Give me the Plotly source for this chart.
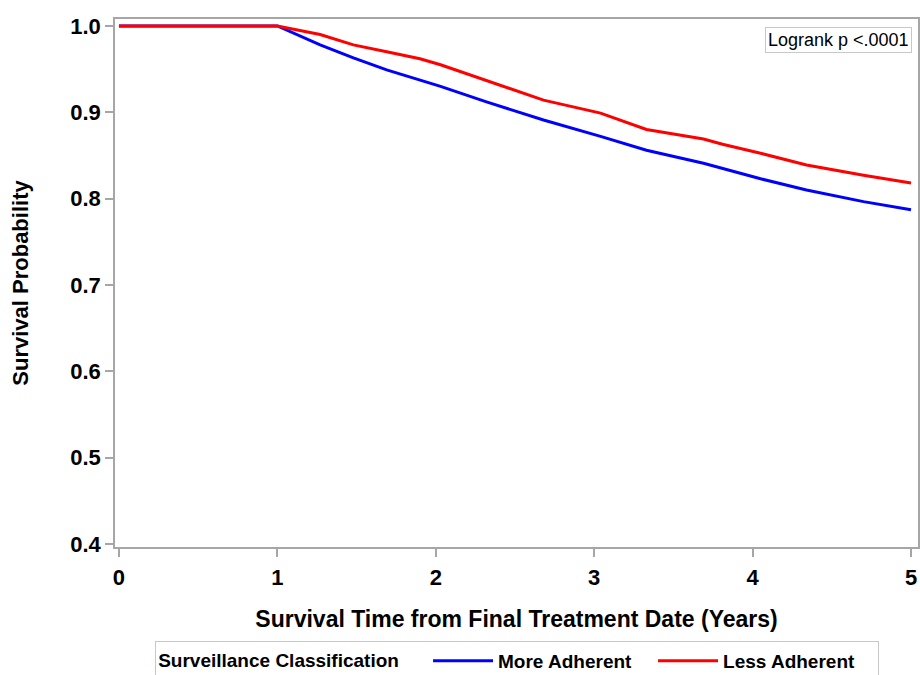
import plotly.graph_objects as go

# Survival time (years) and survival probabilities
more_adherent_t = [0.0, 1.0, 1.27, 1.48, 1.69, 2.03, 2.32, 2.68, 3.04, 3.33, 3.69, 4.05, 4.34, 4.70, 5.0]
more_adherent = [1.0, 1.0, 0.978, 0.963, 0.949, 0.930, 0.912, 0.891, 0.872, 0.856, 0.841, 0.823, 0.810, 0.7965, 0.787]
less_adherent_t = [0.0, 1.0, 1.27, 1.48, 1.69, 1.90, 2.03, 2.17, 2.39, 2.68, 3.04, 3.33, 3.69, 3.81, 4.05, 4.34, 4.70, 5.0]
less_adherent = [1.0, 1.0, 0.990, 0.978, 0.970, 0.962, 0.955, 0.946, 0.932, 0.914, 0.899, 0.880, 0.869, 0.863, 0.8525, 0.839, 0.827, 0.818]

x_ticks = [0, 1, 2, 3, 4, 5]
y_ticks = [0.4, 0.5, 0.6, 0.7, 0.8, 0.9, 1.0]
y_tick_text = ["0.4", "0.5", "0.6", "0.7", "0.8", "0.9", "1.0"]

FONT = "Liberation Sans, Arial, sans-serif"
GRID = "#a6a6a6"

fig = go.Figure()
fig.add_trace(go.Scatter(x=more_adherent_t, y=more_adherent, mode="lines", name="More Adherent",
                         line=dict(color="#0000ff", width=3)))
fig.add_trace(go.Scatter(x=less_adherent_t, y=less_adherent, mode="lines", name="Less Adherent",
                         line=dict(color="#ff0000", width=3)))

fig.update_layout(
    width=920, height=675,
    margin=dict(l=115, r=2, t=19, b=128, autoexpand=False),
    paper_bgcolor="white", plot_bgcolor="white",
    font=dict(family=FONT, color="black"),
    xaxis=dict(
        range=[-0.025, 5.044], tickvals=x_ticks, ticks="outside", ticklen=8,
        tickcolor=GRID, tickwidth=1.5, showline=True, linecolor=GRID, linewidth=1.5, mirror=True,
        showgrid=False, zeroline=False, ticklabelstandoff=2,
        tickfont=dict(size=22, family=FONT, weight="bold"),
        title=dict(text="Survival Time from Final Treatment Date (Years)",
                   font=dict(size=23, family=FONT, weight="bold"), standoff=22),
    ),
    yaxis=dict(
        range=[0.3965, 1.008], tickvals=y_ticks, ticktext=y_tick_text, ticks="outside", ticklen=8,
        tickcolor=GRID, tickwidth=1.5, showline=True, linecolor=GRID, linewidth=1.5, mirror=True,
        showgrid=False, zeroline=False,
        tickfont=dict(size=22, family=FONT, weight="bold"),
        title=dict(text="Survival Probability",
                   font=dict(size=22, family=FONT, weight="bold"), standoff=36),
    ),
    legend=dict(
        orientation="h", x=0.05, y=-0.178, xanchor="left", yanchor="top",
        bordercolor="#c8c8c8", borderwidth=1, bgcolor="white",
        title=dict(text="Surveillance Classification    ", font=dict(size=19, family=FONT, weight="bold")),
        font=dict(size=19, family=FONT, weight="bold"),
        itemwidth=60, tracegroupgap=0, entrywidth=150,
    ),
    showlegend=True,
)

fig.add_annotation(
    x=0.9925, y=0.985, xref="paper", yref="paper", xanchor="right", yanchor="top",
    text="Logrank p <.0001", showarrow=False,
    font=dict(size=18, family=FONT, color="black"),
    bordercolor="#c8c8c8", borderwidth=1, borderpad=2, bgcolor="white",
)

fig.write_html("out.html")
